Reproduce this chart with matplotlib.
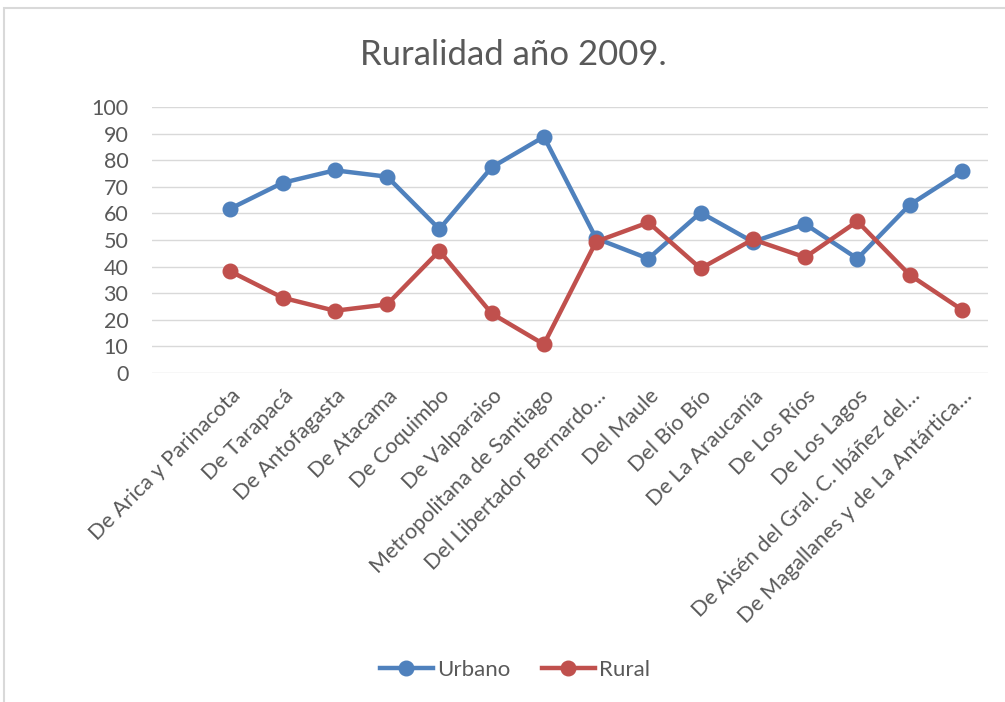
import matplotlib.pyplot as plt
from matplotlib.patches import Rectangle

plt.rcParams['font.family'] = ['Lato', 'DejaVu Sans']

regiones = ['De Arica y Parinacota', 'De Tarapacá', 'De Antofagasta', 'De Atacama',
            'De Coquimbo', 'De Valparaiso', 'Metropolitana de Santiago',
            'Del Libertador Bernardo…', 'Del Maule', 'Del Bío Bío', 'De La Araucanía',
            'De Los Ríos', 'De Los Lagos', 'De Aisén del Gral. C. Ibáñez del…',
            'De Magallanes y de La Antártica…']
urbano = [61.8, 71.5, 76.2, 73.8, 54.1, 77.3, 88.8, 50.6, 43.0, 60.3, 49.3, 56.0, 43.0, 63.2, 75.8]
rural = [38.2, 28.3, 23.4, 25.8, 45.9, 22.4, 10.8, 49.4, 56.6, 39.3, 50.2, 43.5, 57.0, 36.9, 23.8]

gris = '#595959'
fig = plt.figure(figsize=(10.05, 7.02), dpi=100)

# chart border (top and left edges visible)
fig.patches.append(Rectangle((4/1005, -0.01), 1.1, 1 - 8/702 + 0.01, transform=fig.transFigure,
                             fill=False, edgecolor='#D9D9D9', linewidth=1.5))

ax = fig.add_axes([152/1005, 1 - 373/702, (988 - 152)/1005, (373 - 107)/702])
x = list(range(len(regiones)))
ax.plot(x, urbano, '-o', color='#4F81BD', lw=3.2, ms=10.5, label='Urbano', zorder=3)
ax.plot(x, rural, '-o', color='#C0504D', lw=3.2, ms=10.5, label='Rural', zorder=3)

ax.set_xlim(-1.5, 14.5)
ax.set_ylim(0, 100)
ax.set_yticks(range(0, 101, 10))
ax.yaxis.grid(True, color='#D9D9D9', lw=1)
ax.set_axisbelow(True)
for s in ax.spines.values():
    s.set_visible(False)
ax.tick_params(length=0, labelsize=15.5, colors=gris)
ax.tick_params(axis='y', pad=17)
ax.set_xticks(x)
ax.set_xticklabels(regiones, rotation=45, ha='right', rotation_mode='anchor')
for t in ax.get_xticklabels():
    t.set_y(-0.03)

fig.text(513/1005, 1 - 55/702, 'Ruralidad año 2009.', ha='center', va='center',
         fontsize=25, color=gris)
fig.legend(loc='center', bbox_to_anchor=(515/1005, 1 - 670/702), ncol=2, frameon=False,
           fontsize=16, labelcolor=gris, handlelength=2.4, columnspacing=1.4, handletextpad=0.2)

fig.savefig('out.png', dpi=100)
